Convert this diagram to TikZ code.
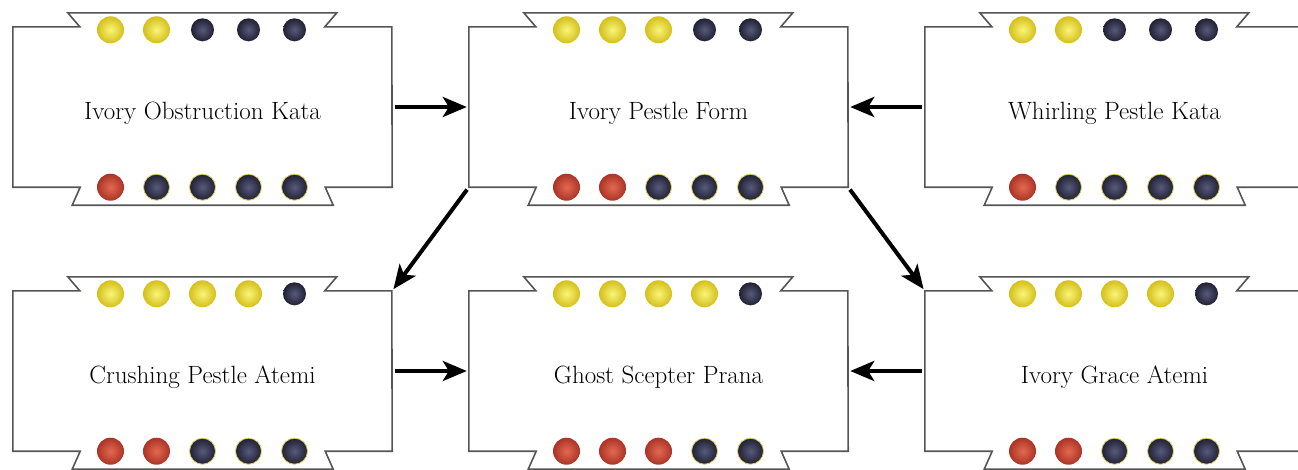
\documentclass[tikz,border=0pt]{standalone}
\usetikzlibrary{calc,arrows.meta}
\definecolor{goldin}{RGB}{250,244,120}
\definecolor{goldout}{RGB}{212,192,28}
\definecolor{navyin}{RGB}{88,90,125}
\definecolor{navyout}{RGB}{32,33,50}
\definecolor{rustin}{RGB}{228,105,82}
\definecolor{rustout}{RGB}{170,52,38}
\definecolor{rimgold}{RGB}{220,205,95}
\definecolor{edgegray}{RGB}{85,85,85}

\begin{document}
\begin{tikzpicture}[x=1pt,y=-1pt,
    skill/.style={rectangle, minimum width=379pt, minimum height=160pt, inner sep=0pt, text height=24pt, text depth=0pt, font=\fontsize{25}{30}\selectfont},
    edge/.style={draw=edgegray, line width=1.6pt},
    gold/.style={circle, inner sep=0pt, minimum size=27pt, inner color=goldin, outer color=goldout},
    navy/.style={circle, inner sep=0pt, minimum size=23pt, inner color=navyin, outer color=navyout},
    rust/.style={circle, inner sep=0pt, minimum size=27pt, inner color=rustin, outer color=rustout},
    rimnavy/.style={circle, inner sep=0pt, minimum size=26pt, inner color=navyin, outer color=navyout, draw=rimgold, line width=0.8pt},
    arrow/.style={-{Stealth[length=24pt,width=20pt,inset=6pt]}, line width=4pt, shorten <=3pt, shorten >=2pt}
]
    \useasboundingbox (0,0) rectangle (1298,469);

    \node[skill] (obst) at (202.5,107) {Ivory Obstruction Kata};
    \node[skill] (form) at (658.5,107) {Ivory Pestle Form};
    \node[skill] (whirl) at (1114.5,107) {Whirling Pestle Kata};
    \node[skill] (crush) at (202.5,371) {Crushing Pestle Atemi};
    \node[skill] (ghost) at (658.5,371) {Ghost Scepter Prana};
    \node[skill] (grace) at (1114.5,371) {Ivory Grace Atemi};

    % notched frames
    \foreach \n in {obst,form,whirl,crush,ghost,grace}{
        \draw[edge] (\n.north west) -- ++(67,0) -- ++(-12,-14) -- ++(269,0) -- ++(-12,14) -- ++(67,0)
            -- (\n.south east) -- ++(-67,0) -- ++(8,18) -- ++(-261,0) -- ++(8,-18) -- (\n.south west) -- cycle;
    }

    % pips
    \foreach \n/\up/\down in {obst/{gold,gold,navy,navy,navy}/{rust,rimnavy,rimnavy,rimnavy,rimnavy},
                              form/{gold,gold,gold,navy,navy}/{rust,rust,rimnavy,rimnavy,rimnavy},
                              whirl/{gold,gold,navy,navy,navy}/{rust,rimnavy,rimnavy,rimnavy,rimnavy},
                              crush/{gold,gold,gold,gold,navy}/{rust,rust,rimnavy,rimnavy,rimnavy},
                              ghost/{gold,gold,gold,gold,navy}/{rust,rust,rust,rimnavy,rimnavy},
                              grace/{gold,gold,gold,gold,navy}/{rust,rust,rimnavy,rimnavy,rimnavy}}{
        \foreach \s [count=\i] in \up
            \node[\s] (\n-t\i) at ($(\n.north)+(\i*46-138,3)$) {};
        \foreach \s [count=\i] in \down
            \node[\s] (\n-b\i) at ($(\n.south)+(\i*46-138,0)$) {};
    }

    \draw[arrow] (obst) -- (form);
    \draw[arrow] (whirl) -- (form);
    \draw[arrow] (form.south west) -- (crush.north east);
    \draw[arrow] (form.south east) -- (grace.north west);
    \draw[arrow] (crush) -- (ghost);
    \draw[arrow] (grace) -- (ghost);
\end{tikzpicture}
\end{document}
